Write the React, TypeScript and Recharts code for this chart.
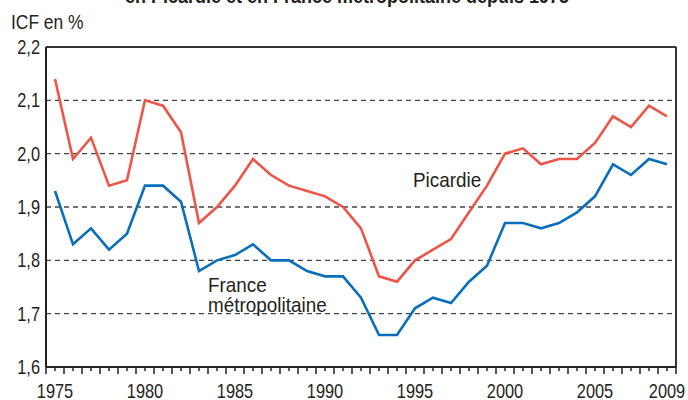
import React from 'react';
import { LineChart, Line, XAxis, YAxis, CartesianGrid, ReferenceLine } from 'recharts';

const years = [1975, 1976, 1977, 1978, 1979, 1980, 1981, 1982, 1983, 1984, 1985, 1986, 1987, 1988, 1989, 1990, 1991, 1992, 1993, 1994, 1995, 1996, 1997, 1998, 1999, 2000, 2001, 2002, 2003, 2004, 2005, 2006, 2007, 2008, 2009];
const picardie = [2.14, 1.99, 2.03, 1.94, 1.95, 2.10, 2.09, 2.04, 1.87, 1.90, 1.94, 1.99, 1.96, 1.94, 1.93, 1.92, 1.90, 1.86, 1.77, 1.76, 1.80, 1.82, 1.84, 1.89, 1.94, 2.00, 2.01, 1.98, 1.99, 1.99, 2.02, 2.07, 2.05, 2.09, 2.07];
const france = [1.93, 1.83, 1.86, 1.82, 1.85, 1.94, 1.94, 1.91, 1.78, 1.80, 1.81, 1.83, 1.80, 1.80, 1.78, 1.77, 1.77, 1.73, 1.66, 1.66, 1.71, 1.73, 1.72, 1.76, 1.79, 1.87, 1.87, 1.86, 1.87, 1.89, 1.92, 1.98, 1.96, 1.99, 1.98];
const xLabels = [1975, 1980, 1985, 1990, 1995, 2000, 2005, 2009];
const yTicks = [1.6, 1.7, 1.8, 1.9, 2.0, 2.1, 2.2];

const data = years.map((y, i) => ({ year: y, picardie: picardie[i], france: france[i] }));
const xTicks: number[] = [];
years.forEach((y) => { xTicks.push(y - 0.5); xTicks.push(y); });
xTicks.push(years[years.length - 1] + 0.5);

const FONT = '"Liberation Sans", Arial, sans-serif';
const TEXT = '#231f20';

const NText = ({ x, y, anchor = 'start', bold = false, size = 20, sx = 0.82, children }: any) => (
  <text
    transform={`translate(${x},${y}) scale(${sx},1)`}
    textAnchor={anchor}
    fontFamily={FONT}
    fontSize={size}
    fontWeight={bold ? 'bold' : 'normal'}
    fill={TEXT}
  >
    {children}
  </text>
);

const XTick = (props: any) => {
  const { x, y, payload } = props;
  const v = payload.value as number;
  const isYear = Number.isInteger(v);
  const len = isYear ? 4 : 7;
  return (
    <g>
      <line x1={x} x2={x} y1={y} y2={y + len} stroke="#222" strokeWidth={1.5} />
      {isYear && xLabels.includes(v) ? (
        <NText x={x} y={y + 31} anchor="middle">{v}</NText>
      ) : null}
    </g>
  );
};

const YTick = (props: any) => {
  const { x, y, payload } = props;
  return (
    <NText x={x} y={y + 7} anchor="end">
      {payload.value.toFixed(1).replace('.', ',')}
    </NText>
  );
};

export default function App() {
  return (
    <div style={{ position: 'absolute', left: 0, top: 0, background: '#fff' }}>
      <LineChart width={688} height={400} data={data} margin={{ top: 47, right: 12, bottom: 0, left: 0 }}>
        <NText x={347} y={3} anchor="middle" bold sx={0.9}>en Picardie et en France métropolitaine depuis 1975</NText>
        <NText x={11} y={29} sx={0.87}>ICF en %</NText>
        <CartesianGrid vertical={false} stroke="#444" strokeDasharray="5 4" strokeWidth={1.3} />
        <XAxis
          dataKey="year"
          type="number"
          domain={[1974.5, 2009.5]}
          ticks={xTicks}
          interval={0}
          tickLine={false}
          tickSize={0}
          tickMargin={0}
          tick={<XTick />}
          axisLine={{ stroke: '#222', strokeWidth: 2 }}
          height={33}
          allowDecimals
        />
        <YAxis
          type="number"
          domain={[1.6, 2.2]}
          ticks={yTicks}
          interval={0}
          tickLine={false}
          tickSize={0}
          tick={<YTick />}
          tickMargin={6}
          axisLine={{ stroke: '#222', strokeWidth: 2 }}
          width={46}
        />
        <ReferenceLine y={2.2} stroke="#333" strokeWidth={2} />
        <ReferenceLine x={2009.5} stroke="#333" strokeWidth={2} />
        <Line type="linear" dataKey="picardie" stroke="#ee5547" strokeWidth={2.6} dot={false} isAnimationActive={false} />
        <Line type="linear" dataKey="france" stroke="#0a6fba" strokeWidth={2.6} dot={false} isAnimationActive={false} />
        <NText x={413} y={187} size={21} sx={0.9}>Picardie</NText>
        <NText x={208} y={292} size={21} sx={0.9}>France</NText>
        <NText x={208} y={312} size={21} sx={0.9}>métropolitaine</NText>
      </LineChart>
    </div>
  );
}
